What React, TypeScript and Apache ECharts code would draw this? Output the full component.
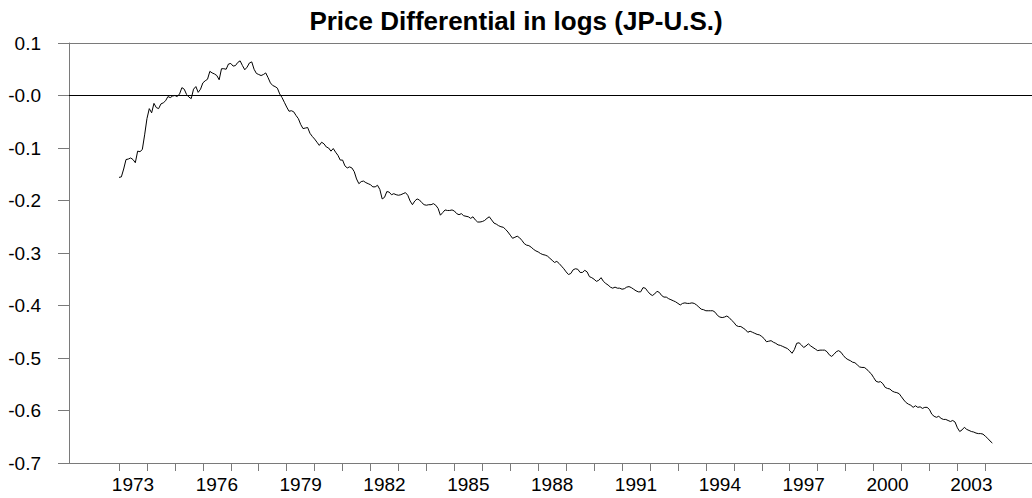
import React, { useEffect, useRef } from 'react';
import * as echarts from 'echarts';

const TITLE = 'Price Differential in logs (JP-U.S.)';
const START_YEAR = 1973;
const START_MONTH = 1;

// Monthly log price differential (JP - U.S.), 1973:01 onward
const diff: number[] = [
  -0.156, -0.155, -0.140, -0.122, -0.121, -0.119, -0.122, -0.128, -0.106, -0.107, -0.103, -0.075,
  -0.044, -0.025, -0.033, -0.015, -0.023, -0.025, -0.016, -0.014, -0.010, -0.002, -0.004, -0.001,
  0.000, -0.002, 0.003, 0.015, 0.012, 0.002, -0.003, -0.006, 0.012, 0.017, 0.006, 0.012,
  0.024, 0.028, 0.031, 0.046, 0.043, 0.041, 0.038, 0.030, 0.051, 0.051, 0.050, 0.060,
  0.061, 0.056, 0.057, 0.063, 0.066, 0.057, 0.049, 0.054, 0.062, 0.064, 0.050, 0.042,
  0.040, 0.038, 0.040, 0.043, 0.034, 0.024, 0.019, 0.017, 0.014, 0.003, -0.004, -0.013,
  -0.022, -0.030, -0.029, -0.031, -0.038, -0.044, -0.055, -0.063, -0.062, -0.061, -0.072, -0.078,
  -0.083, -0.089, -0.095, -0.089, -0.092, -0.098, -0.100, -0.106, -0.101, -0.108, -0.114, -0.123,
  -0.123, -0.134, -0.138, -0.136, -0.138, -0.145, -0.159, -0.168, -0.164, -0.163, -0.166, -0.168,
  -0.170, -0.174, -0.174, -0.171, -0.179, -0.197, -0.194, -0.183, -0.184, -0.189, -0.187, -0.189,
  -0.190, -0.189, -0.187, -0.185, -0.190, -0.201, -0.208, -0.201, -0.197, -0.199, -0.204, -0.208,
  -0.209, -0.208, -0.208, -0.206, -0.209, -0.215, -0.228, -0.223, -0.218, -0.219, -0.219, -0.218,
  -0.220, -0.225, -0.227, -0.225, -0.229, -0.230, -0.231, -0.234, -0.231, -0.237, -0.241, -0.241,
  -0.240, -0.238, -0.234, -0.231, -0.237, -0.243, -0.245, -0.248, -0.250, -0.251, -0.255, -0.260,
  -0.266, -0.272, -0.270, -0.268, -0.271, -0.276, -0.282, -0.285, -0.286, -0.289, -0.293, -0.296,
  -0.298, -0.301, -0.303, -0.304, -0.306, -0.310, -0.314, -0.318, -0.316, -0.320, -0.325, -0.330,
  -0.336, -0.341, -0.339, -0.332, -0.330, -0.331, -0.337, -0.337, -0.333, -0.336, -0.345, -0.347,
  -0.350, -0.354, -0.352, -0.347, -0.354, -0.358, -0.361, -0.365, -0.367, -0.365, -0.367, -0.367,
  -0.369, -0.368, -0.365, -0.364, -0.366, -0.369, -0.372, -0.374, -0.374, -0.366, -0.367, -0.373,
  -0.378, -0.381, -0.378, -0.373, -0.375, -0.381, -0.384, -0.384, -0.387, -0.389, -0.391, -0.393,
  -0.396, -0.399, -0.396, -0.395, -0.396, -0.396, -0.395, -0.396, -0.399, -0.403, -0.407, -0.408,
  -0.410, -0.410, -0.410, -0.410, -0.413, -0.419, -0.422, -0.423, -0.422, -0.420, -0.423, -0.428,
  -0.432, -0.438, -0.440, -0.440, -0.443, -0.446, -0.451, -0.449, -0.451, -0.453, -0.455, -0.456,
  -0.459, -0.463, -0.469, -0.468, -0.467, -0.470, -0.472, -0.475, -0.476, -0.478, -0.480, -0.482,
  -0.486, -0.491, -0.484, -0.472, -0.471, -0.475, -0.480, -0.477, -0.473, -0.477, -0.480, -0.483,
  -0.486, -0.485, -0.485, -0.485, -0.488, -0.494, -0.497, -0.493, -0.488, -0.486, -0.489, -0.495,
  -0.500, -0.503, -0.505, -0.508, -0.509, -0.513, -0.517, -0.518, -0.518, -0.521, -0.526, -0.530,
  -0.537, -0.544, -0.546, -0.545, -0.549, -0.556, -0.558, -0.559, -0.563, -0.565, -0.566, -0.568,
  -0.574, -0.580, -0.585, -0.588, -0.590, -0.594, -0.591, -0.594, -0.593, -0.596, -0.594, -0.594,
  -0.598, -0.607, -0.611, -0.613, -0.611, -0.615, -0.617, -0.617, -0.619, -0.621, -0.619, -0.622,
  -0.633, -0.640, -0.637, -0.632, -0.636, -0.638, -0.640, -0.641, -0.643, -0.644, -0.644, -0.645,
  -0.649, -0.653, -0.658, -0.662,
];

const tickYears: number[] = [
  1973, 1974, 1975, 1976, 1977, 1978, 1979, 1980, 1981, 1982, 1983, 1984, 1985, 1986, 1987, 1988,
  1989, 1990, 1991, 1992, 1993, 1994, 1995, 1996, 1997, 1998, 1999, 2000, 2001, 2002, 2003, 2004,
];
const labelYears: number[] = [1973, 1976, 1979, 1982, 1985, 1988, 1991, 1994, 1997, 2000, 2003];

const X_MIN = 1971.21;
const X_MAX = 2005.67;
const Y_MIN = -0.7;
const Y_MAX = 0.1;
const Y_STEP = 0.1;

const FONT = '"Liberation Sans", Arial, Helvetica, sans-serif';
const AXIS_COLOR = '#7a7a7a';

export default function App() {
  const ref = useRef<HTMLDivElement>(null);

  useEffect(() => {
    if (!ref.current) return;
    const chart = echarts.init(ref.current, null, { renderer: 'svg' });
    const data = diff.map((v, i) => [START_YEAR + (START_MONTH - 1 + i) / 12, v]);

    chart.setOption({
      animation: false,
      backgroundColor: '#ffffff',
      title: {
        text: TITLE,
        left: 'center',
        top: 3,
        textStyle: { fontFamily: FONT, fontSize: 26, fontWeight: 'bold', color: '#000' },
      },
      grid: { left: 69, right: 0, top: 43, bottom: 35 },
      xAxis: [
        {
          type: 'value',
          min: X_MIN,
          max: X_MAX,
          axisLine: { show: true, onZero: false, lineStyle: { color: AXIS_COLOR, width: 1 } },
          axisTick: {
            show: true,
            customValues: tickYears,
            length: 8,
            lineStyle: { color: AXIS_COLOR, width: 1 },
          },
          axisLabel: {
            show: true,
            customValues: labelYears.map((y) => y + 0.5),
            formatter: (v: number) => String(Math.floor(v)),
            margin: 12,
            fontSize: 19,
            fontFamily: FONT,
            color: '#000',
          },
          splitLine: { show: false },
        },
        {
          type: 'value',
          position: 'top',
          min: X_MIN,
          max: X_MAX,
          axisLine: { show: true, onZero: false, lineStyle: { color: AXIS_COLOR, width: 1 } },
          axisTick: { show: false },
          axisLabel: { show: false },
          splitLine: { show: false },
        },
      ],
      yAxis: {
        type: 'value',
        min: Y_MIN,
        max: Y_MAX,
        interval: Y_STEP,
        axisLine: { show: true, onZero: false, lineStyle: { color: AXIS_COLOR, width: 1 } },
        axisTick: { show: true, length: 11, lineStyle: { color: AXIS_COLOR, width: 1 } },
        axisLabel: {
          margin: 28,
          fontSize: 19,
          fontFamily: FONT,
          color: '#000',
          formatter: (v: number) => (Math.abs(v) < 1e-9 ? '-0.0' : v.toFixed(1)),
        },
        splitLine: { show: false },
      },
      series: [
        {
          type: 'line',
          data,
          showSymbol: false,
          lineStyle: { color: '#000', width: 1 },
          markLine: {
            silent: true,
            symbol: ['none', 'none'],
            label: { show: false },
            lineStyle: { color: '#000', width: 1, type: 'solid' },
            data: [{ yAxis: 0 }],
          },
        },
      ],
    });

    return () => chart.dispose();
  }, []);

  return (
    <div
      ref={ref}
      style={{ position: 'fixed', left: 0, top: 0, width: 1032, height: 498, background: '#fff' }}
    />
  );
}
